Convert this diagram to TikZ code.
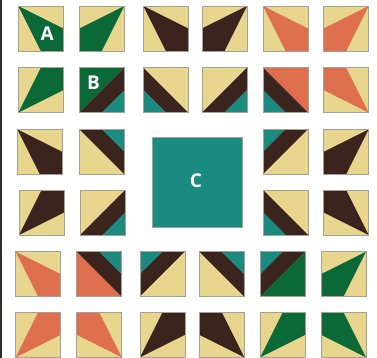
\documentclass[tikz,border=0pt]{standalone}
\usepackage{fontspec}
\setsansfont{Open Sans}
\definecolor{tanc}{RGB}{232,214,142}
\definecolor{greenc}{RGB}{10,105,55}
\definecolor{brownc}{RGB}{60,36,30}
\definecolor{orangec}{RGB}{222,112,80}
\definecolor{tealc}{RGB}{27,138,128}
\definecolor{bordc}{RGB}{165,160,148}
\definecolor{edgec}{RGB}{50,45,45}
\tikzset{
  tileborder/.style={draw=bordc, line width=0.7pt},
  lbl/.style={text=white, font=\sffamily\bfseries\fontsize{19}{21}\selectfont, inner sep=0pt}
}
\newcommand\qtile[5]{%
 \begin{scope}[xshift=#1pt, yshift=-#2pt, x=45pt, y=-45pt]
   \fill[tanc] (0,0) rectangle (1,1);
   \ifcase#3\relax
     \fill[#4] (0,0)--(1,0.5)--(1,1)--(0.5,1)--cycle;
   \or
     \fill[#4] (1,0)--(0,0.5)--(0,1)--(0.5,1)--cycle;
   \or
     \fill[#4] (0,1)--(0.5,0)--(1,0)--(1,0.5)--cycle;
   \or
     \fill[#4] (1,1)--(0.5,0)--(0,0)--(0,0.5)--cycle;
   \or
     \fill[#4] (0,0)--(1,0)--(0,1)--cycle;
     \fill[brownc] (0,1)--(1,0)--(1,0.5)--(0.5,1)--cycle;
     \fill[#5] (0.5,1)--(1,1)--(1,0.5)--cycle;
   \or
     \fill[#5] (0,0)--(0.5,0)--(0,0.5)--cycle;
     \fill[brownc] (0.5,0)--(1,0)--(0,1)--(0,0.5)--cycle;
     \fill[#4] (1,0)--(1,1)--(0,1)--cycle;
   \or
     \fill[#4] (0,0)--(1,0)--(1,1)--cycle;
     \fill[brownc] (0,0)--(1,1)--(0.5,1)--(0,0.5)--cycle;
     \fill[#5] (0,0.5)--(0.5,1)--(0,1)--cycle;
   \or
     \fill[#4] (0,0)--(1,1)--(0,1)--cycle;
     \fill[brownc] (0,0)--(0.5,0)--(1,0.5)--(1,1)--cycle;
     \fill[#5] (0.5,0)--(1,0)--(1,0.5)--cycle;
   \fi
   \draw[tileborder] (0,0) rectangle (1,1);
 \end{scope}}
\begin{document}
\begin{tikzpicture}[x=1pt,y=-1pt]
\useasboundingbox (0,0) rectangle (377,358);
\fill[white] (0,0) rectangle (377,358);
\draw[edgec, line width=1.6pt] (0.8,0) -- (0.8,358);
% row 1
\qtile{18.3}{6}{0}{greenc}{tealc}
\qtile{79.3}{6}{1}{greenc}{tealc}
\qtile{143.3}{6}{0}{brownc}{tealc}
\qtile{202}{6}{1}{brownc}{tealc}
\qtile{263}{6}{0}{orangec}{tealc}
\qtile{323.7}{6}{1}{orangec}{tealc}
% row 2
\qtile{18.3}{67.7}{2}{greenc}{tealc}
\qtile{79.3}{67.7}{4}{greenc}{tealc}
\qtile{143.3}{67.7}{6}{tanc}{tealc}
\qtile{202}{67.7}{4}{tanc}{tealc}
\qtile{263}{67.7}{6}{orangec}{tealc}
\qtile{323.7}{67.7}{3}{orangec}{tealc}
% row 3
\qtile{17.3}{129.3}{0}{brownc}{tealc}
\qtile{79.3}{129.3}{7}{tanc}{tealc}
\qtile{263}{129.3}{5}{tanc}{tealc}
\qtile{323.7}{129.3}{1}{brownc}{tealc}
% row 4
\qtile{19}{190}{2}{brownc}{tealc}
\qtile{80}{190}{4}{tanc}{tealc}
\qtile{263}{190}{6}{tanc}{tealc}
\qtile{323.7}{190}{3}{brownc}{tealc}
% row 5
\qtile{15.7}{251.7}{0}{orangec}{tealc}
\qtile{76.7}{251.7}{7}{orangec}{tealc}
\qtile{140}{251.7}{5}{tanc}{tealc}
\qtile{199.3}{251.7}{7}{tanc}{tealc}
\qtile{260.3}{251.7}{5}{greenc}{tealc}
\qtile{321}{251.7}{1}{greenc}{tealc}
% row 6
\qtile{15.7}{312.3}{2}{orangec}{tealc}
\qtile{76.7}{312.3}{3}{orangec}{tealc}
\qtile{140}{312.3}{2}{brownc}{tealc}
\qtile{199.3}{312.3}{3}{brownc}{tealc}
\qtile{260.3}{312.3}{2}{greenc}{tealc}
\qtile{321}{312.3}{3}{greenc}{tealc}
% centre square
\fill[tealc] (152,137) rectangle (242,227);
\draw[tileborder] (152,137) rectangle (242,227);
\node[lbl] (labA) at (47.3,33.3) {A};
\node[lbl] (labB) at (93.5,83) {B};
\node[lbl] (labC) at (196,181) {C};
\end{tikzpicture}
\end{document}
